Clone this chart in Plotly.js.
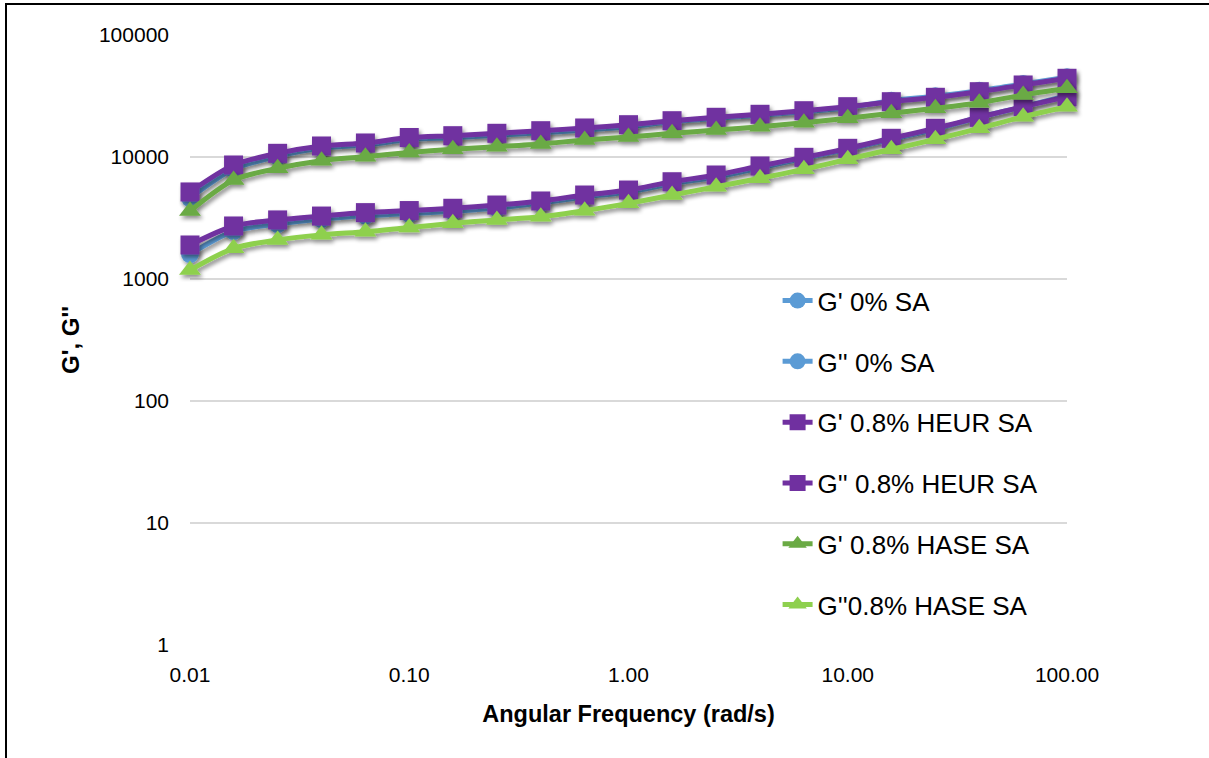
<!DOCTYPE html>
<html>
<head>
<meta charset="utf-8">
<script src="https://cdn.plot.ly/plotly-3.0.1.min.js"></script>
<style>
  html, body { margin: 0; padding: 0; background: #fff; }
  #wrap { position: relative; width: 1209px; height: 758px; overflow: hidden; }
  #chart { position: absolute; left: 0; top: 0; width: 1209px; height: 758px; }
  .frame-top { position: absolute; left: 5px; top: 3px; width: 1204px; height: 2px; background: #000; z-index: 5; }
  .frame-left { position: absolute; left: 5px; top: 3px; width: 2px; height: 755px; background: #000; z-index: 5; }
</style>
</head>
<body>
<div id="wrap">
  <div id="chart"></div>
  <div class="frame-top"></div>
  <div class="frame-left"></div>
</div>
<script>
// Angular frequency sweep (rad/s), 5 points per decade
const freq = [0.01, 0.0158, 0.0251, 0.0398, 0.0631, 0.1, 0.158, 0.251, 0.398, 0.631,
              1, 1.58, 2.51, 3.98, 6.31, 10, 15.8, 25.1, 39.8, 63.1, 100];

// Storage modulus G' and loss modulus G'' (Pa)
const gp_0 = [4610, 7970, 10130, 11850, 12540, 13910, 14390, 15060, 15820, 16640,
              17720, 19470, 20760, 21970, 23510, 25360, 28940, 31450, 34950, 39670, 45020];
const gpp_0 = [1600, 2470, 2820, 3100, 3300, 3440, 3590, 3820, 4200, 4700,
               5170, 6040, 6860, 8120, 9760, 11570, 13970, 16870, 21160, 25850, 31810];
const gp_heur = [5170, 8600, 10720, 12310, 13030, 14450, 14950, 15640, 16430, 17290,
                 18400, 19840, 21160, 22390, 23960, 25850, 28400, 30850, 34300, 38930, 44180];
const gpp_heur = [1900, 2720, 3050, 3280, 3500, 3640, 3800, 4040, 4360, 4880,
                  5360, 6270, 7120, 8440, 9940, 11780, 14230, 17190, 21160, 25850, 31210];
const gp_hase = [3610, 6480, 8080, 9330, 10060, 10890, 11570, 12150, 12790, 13780,
                 14590, 15640, 16640, 17720, 19100, 20760, 22810, 25070, 27870, 32230, 36560];
const gpp_hase = [1185, 1785, 2090, 2300, 2440, 2640, 2860, 3050, 3240, 3630,
                  4170, 4880, 5710, 6690, 7930, 9580, 11570, 13970, 17190, 21400, 25850];

const seriesNames = ["G' 0% SA", "G'' 0% SA", "G' 0.8% HEUR SA", "G'' 0.8% HEUR SA",
                     "G' 0.8% HASE SA", "G''0.8% HASE SA"];

// Axis ticks
const xTickVals = [0.01, 0.1, 1, 10, 100];
const xTickText = ["0.01", "0.10", "1.00", "10.00", "100.00"];
const yTickVals = [1, 10, 100, 1000, 10000, 100000];
const yTickText = ["1", "10", "100", "1000", "10000", "100000"];

const FONT = '"Liberation Sans", Arial, sans-serif';

function series(name, y, color, symbol, size, group) {
  return {
    type: 'scatter', mode: 'lines+markers', name: name,
    x: freq, y: y, legendgroup: group, cliponaxis: false,
    line: { color: color, width: 5, shape: 'spline', smoothing: 0.8 },
    marker: { color: color, symbol: symbol, size: size, line: { width: 0 } }
  };
}

const traces = [
  series(seriesNames[0], gp_0, '#5B9BD5', 'circle', 18, 'a'),
  series(seriesNames[1], gpp_0, '#5B9BD5', 'circle', 18, 'b'),
  series(seriesNames[2], gp_heur, '#7030A0', 'square', 19, 'c'),
  series(seriesNames[3], gpp_heur, '#7030A0', 'square', 19, 'd'),
  series(seriesNames[4], gp_hase, '#6AAA44', 'triangle-up', 19, 'e'),
  series(seriesNames[5], gpp_hase, '#8ED04E', 'triangle-up', 19, 'f')
];

const layout = {
  width: 1209, height: 758,
  margin: { l: 190, r: 142, t: 35, b: 113 },
  paper_bgcolor: '#ffffff', plot_bgcolor: '#ffffff',
  font: { family: FONT, color: '#000' },
  showlegend: true,
  legend: {
    x: 0.67, y: 0.603, xanchor: 'left', yanchor: 'top',
    bgcolor: 'rgba(0,0,0,0)', borderwidth: 0,
    font: { size: 26, family: FONT, color: '#000' },
    traceorder: 'grouped', tracegroupgap: 24
  },
  xaxis: {
    type: 'log', range: [-2, 2],
    tickvals: xTickVals, ticktext: xTickText,
    showgrid: false, zeroline: false, showline: false, ticks: '',
    ticklabelstandoff: 15,
    tickfont: { size: 21, family: FONT, color: '#000' },
    title: { text: 'Angular Frequency (rad/s)', standoff: 20,
             font: { size: 23.5, family: FONT, color: '#000', weight: 'bold' } },
    automargin: false
  },
  yaxis: {
    type: 'log', range: [0, 5],
    tickvals: yTickVals, ticktext: yTickText,
    showgrid: true, gridcolor: '#d9d9d9', gridwidth: 1.5,
    zeroline: false, showline: false, ticks: '',
    ticklabelstandoff: 20,
    tickfont: { size: 21, family: FONT, color: '#000' },
    title: { text: "G', G''", standoff: 12,
             font: { size: 24, family: FONT, color: '#000', weight: 'bold' } },
    automargin: false
  }
};

Plotly.newPlot('chart', traces, layout, { staticPlot: true }).then(function (gd) {
  // soft drop shadow under the plotted series
  const svg = gd.querySelector('svg.main-svg');
  const ns = 'http://www.w3.org/2000/svg';
  let defs = svg.querySelector('defs');
  if (!defs) { defs = document.createElementNS(ns, 'defs'); svg.insertBefore(defs, svg.firstChild); }
  const f = document.createElementNS(ns, 'filter');
  f.setAttribute('id', 'seriesShadow');
  f.setAttribute('x', '-20%'); f.setAttribute('y', '-20%');
  f.setAttribute('width', '140%'); f.setAttribute('height', '140%');
  f.innerHTML =
    '<feGaussianBlur in="SourceAlpha" stdDeviation="2"/>' +
    '<feOffset dx="2" dy="3" result="off"/>' +
    '<feComponentTransfer><feFuncA type="linear" slope="0.45"/></feComponentTransfer>' +
    '<feMerge><feMergeNode/><feMergeNode in="SourceGraphic"/></feMerge>';
  defs.appendChild(f);
  gd.querySelectorAll('.scatterlayer .trace').forEach(function (t) {
    t.setAttribute('filter', 'url(#seriesShadow)');
  });
});
</script>
</body>
</html>
